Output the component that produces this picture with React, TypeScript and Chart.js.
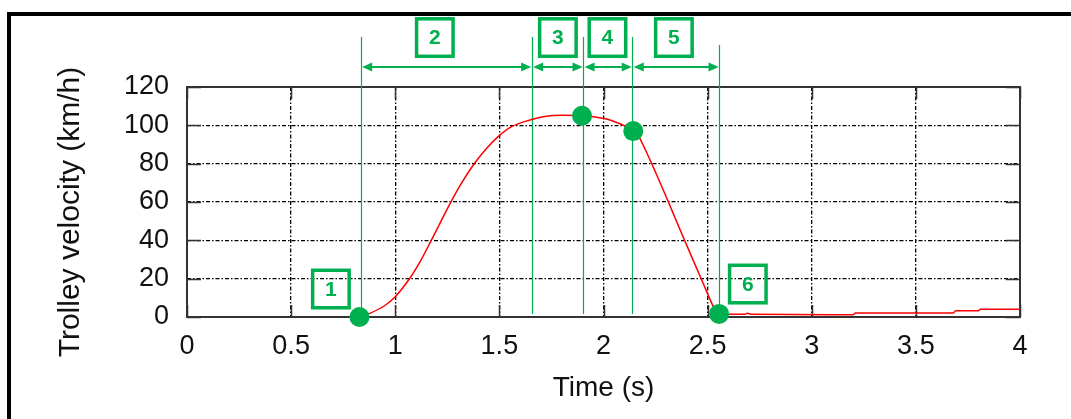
import React, { useEffect, useRef } from 'react';
import { Chart, registerables } from 'chart.js';

Chart.register(...registerables);

// ---- data ----
const timeS = [
  0.83, 0.88, 0.95, 1.0, 1.07, 1.12, 1.174, 1.26, 1.311, 1.375, 1.439, 1.494, 1.559, 1.647, 1.711,
  1.8, 1.9, 1.96, 2.031, 2.1, 2.143, 2.17, 2.2, 2.25, 2.3, 2.36, 2.423, 2.479, 2.527, 2.545, 2.56, 2.6,
  2.68, 2.69, 2.71, 3.2, 3.21, 3.68, 3.69, 3.8, 3.81, 4.0,
];
const velocityKmh = [
  0, 2, 6, 10.6, 20.2, 29, 40.2, 58.5, 68.5, 79.3, 88, 94.1, 99.3, 102.8, 104.5,
  105.2, 105, 104.3, 102.8, 99.8, 97.4, 94, 87.5, 75.5, 63, 47.5, 31.5, 17.5, 5.5, 2.2, 1.5, 1.4,
  1.4, 2.0, 1.4, 1.2, 2.1, 2.1, 3.3, 3.3, 4.0, 4.0,
];
const eventTimes = [0.828, 1.897, 2.143, 2.555];
const eventVelocities = [0, 105, 97, 1.6];
const phaseBoundaryTimes = [0.834, 1.655, 1.902, 2.138, 2.555];
const phaseLabels = ['1', '2', '3', '4', '5', '6'];
const xTickLabels = ['0', '0.5', '1', '1.5', '2', '2.5', '3', '3.5', '4'];
const yTickLabels = ['0', '20', '40', '60', '80', '100', '120'];
const xTitle = 'Time (s)';
const yTitle = 'Trolley velocity (km/h)';

const GREEN = '#00b050';
const FONT = '"Liberation Sans", Arial, Helvetica, sans-serif';

// label box anchors (time, velocity-scale units)
const boxAnchors = [
  { t: 0.691, v: 14.6 },
  { t: 1.19, v: 145.8 },
  { t: 1.781, v: 145.8 },
  { t: 2.019, v: 145.8 },
  { t: 2.338, v: 145.8 },
  { t: 2.693, v: 17.2 },
];

const annotationPlugin = {
  id: 'annotations',
  beforeDraw(chart: any) {
    const { ctx, width, height } = chart;
    ctx.save();
    ctx.fillStyle = '#ffffff';
    ctx.fillRect(0, 0, width, height);
    ctx.fillStyle = '#000000';
    ctx.fillRect(7, 12, width - 7, 4);
    ctx.fillRect(7, 12, 4, height - 12);
    ctx.restore();
  },
  beforeDatasetsDraw(chart: any) {
    const { ctx, chartArea: a } = chart;
    const xs = chart.scales.x;
    const ys = chart.scales.y;
    ctx.save();
    // plot frame
    ctx.strokeStyle = '#333333';
    ctx.lineWidth = 2;
    ctx.strokeRect(a.left, a.top, a.right - a.left, a.bottom - a.top);
    // inward tick marks
    ctx.lineWidth = 1.5;
    ctx.beginPath();
    xs.ticks.forEach((t: any) => {
      const px = Math.round(xs.getPixelForValue(t.value)) + 0.5;
      ctx.moveTo(px, a.bottom);
      ctx.lineTo(px, a.bottom - 12);
      ctx.moveTo(px, a.top);
      ctx.lineTo(px, a.top + 12);
    });
    ys.ticks.forEach((t: any) => {
      const py = Math.round(ys.getPixelForValue(t.value)) + 0.5;
      ctx.moveTo(a.left, py);
      ctx.lineTo(a.left + 14, py);
      ctx.moveTo(a.right, py);
      ctx.lineTo(a.right - 14, py);
    });
    ctx.stroke();
    // phase boundary lines
    ctx.strokeStyle = GREEN;
    ctx.lineWidth = 1.2;
    phaseBoundaryTimes.forEach((t, i) => {
      const px = Math.round(xs.getPixelForValue(t)) + 0.5;
      const top = i === phaseBoundaryTimes.length - 1 ? a.top - 42 : a.top - 50;
      const bottom = i === 0 ? a.bottom : a.bottom - 3;
      ctx.beginPath();
      ctx.moveTo(px, top);
      ctx.lineTo(px, bottom);
      ctx.stroke();
    });
    ctx.restore();
  },
  afterDatasetsDraw(chart: any) {
    const { ctx, chartArea: a } = chart;
    const xs = chart.scales.x;
    const ys = chart.scales.y;
    ctx.save();
    // double arrows
    const ay = a.top - 20;
    ctx.strokeStyle = GREEN;
    ctx.fillStyle = GREEN;
    ctx.lineWidth = 2;
    const head = (x0: number, dir: number) => {
      ctx.beginPath();
      ctx.moveTo(x0, ay);
      ctx.lineTo(x0 + dir * 10, ay - 4.5);
      ctx.lineTo(x0 + dir * 10, ay + 4.5);
      ctx.closePath();
      ctx.fill();
    };
    for (let i = 0; i < phaseBoundaryTimes.length - 1; i++) {
      const x1 = xs.getPixelForValue(phaseBoundaryTimes[i]) + 1.5;
      const x2 = xs.getPixelForValue(phaseBoundaryTimes[i + 1]) - 0.5;
      ctx.beginPath();
      ctx.moveTo(x1 + 5, ay);
      ctx.lineTo(x2 - 5, ay);
      ctx.stroke();
      head(x1, 1);
      head(x2, -1);
    }
    // label boxes
    ctx.lineWidth = 3.5;
    ctx.font = 'bold 21px ' + FONT;
    ctx.textAlign = 'center';
    ctx.textBaseline = 'middle';
    boxAnchors.forEach((b, i) => {
      const cx = xs.getPixelForValue(b.t);
      const cy = ys.getPixelForValue(b.v);
      const w = 40;
      const h = 41;
      ctx.strokeRect(cx - w / 2 + 1.75, cy - h / 2 + 1.75, w - 3.5, h - 3.5);
      ctx.fillText(phaseLabels[i], cx, cy + 1);
    });
    // y axis title
    ctx.fillStyle = '#111111';
    ctx.font = '30px ' + FONT;
    ctx.translate(71, (a.top + a.bottom) / 2 + 10);
    ctx.rotate(-Math.PI / 2);
    ctx.textAlign = 'center';
    ctx.textBaseline = 'middle';
    ctx.fillText(yTitle, 0, 0);
    ctx.restore();
  },
};

export default function App() {
  const canvasRef = useRef<HTMLCanvasElement | null>(null);

  useEffect(() => {
    if (!canvasRef.current) return;
    const curve = timeS.map((t, i) => ({ x: t, y: velocityKmh[i] }));
    const events = eventTimes.map((t, i) => ({ x: t, y: eventVelocities[i] }));
    const chart = new Chart(canvasRef.current, {
      type: 'line',
      data: {
        datasets: [
          {
            label: 'Events',
            data: events,
            showLine: false,
            pointRadius: 10,
            pointHoverRadius: 10,
            pointBackgroundColor: GREEN,
            pointBorderWidth: 0,
            borderColor: GREEN,
            clip: false as any,
          },
          {
            label: 'Velocity',
            data: curve,
            borderColor: '#ff0000',
            borderWidth: 1.5,
            pointRadius: 0,
            cubicInterpolationMode: 'monotone',
            fill: false,
          },
        ],
      },
      options: {
        animation: false,
        responsive: false,
        devicePixelRatio: 1,
        layout: { padding: { left: 0, right: 51, top: 87, bottom: 0 } },
        plugins: {
          legend: { display: false },
          tooltip: { enabled: false },
        },
        events: [],
        scales: {
          x: {
            type: 'linear',
            min: 0,
            max: 4,
            afterFit: (s: any) => {
              s.height = 102;
            },
            ticks: {
              stepSize: 0.5,
              autoSkip: false,
              maxRotation: 0,
              padding: 13,
              color: '#111111',
              font: { family: FONT, size: 27 },
              callback: (_v: any, i: number) => xTickLabels[i],
            },
            grid: { color: '#000000', lineWidth: 1.3, drawTicks: false },
            border: { display: false, dash: [4, 2, 1.5, 2] },
            title: {
              display: true,
              text: xTitle,
              color: '#111111',
              font: { family: FONT, size: 28 },
              padding: { top: 0, bottom: 14 },
            },
          },
          y: {
            type: 'linear',
            min: 0,
            max: 120,
            afterFit: (s: any) => {
              s.width = 187;
            },
            ticks: {
              stepSize: 20,
              padding: 18,
              color: '#111111',
              font: { family: FONT, size: 27 },
              callback: (_v: any, i: number) => yTickLabels[i],
            },
            grid: { color: '#000000', lineWidth: 1.3, drawTicks: false },
            border: { display: false, dash: [4, 2, 1.5, 2] },
          },
        },
      },
      plugins: [annotationPlugin],
    } as any);
    return () => chart.destroy();
  }, []);

  return (
    <div style={{ position: 'absolute', left: 0, top: 0, width: 1071, height: 419 }}>
      <canvas ref={canvasRef} width={1071} height={419} />
    </div>
  );
}
